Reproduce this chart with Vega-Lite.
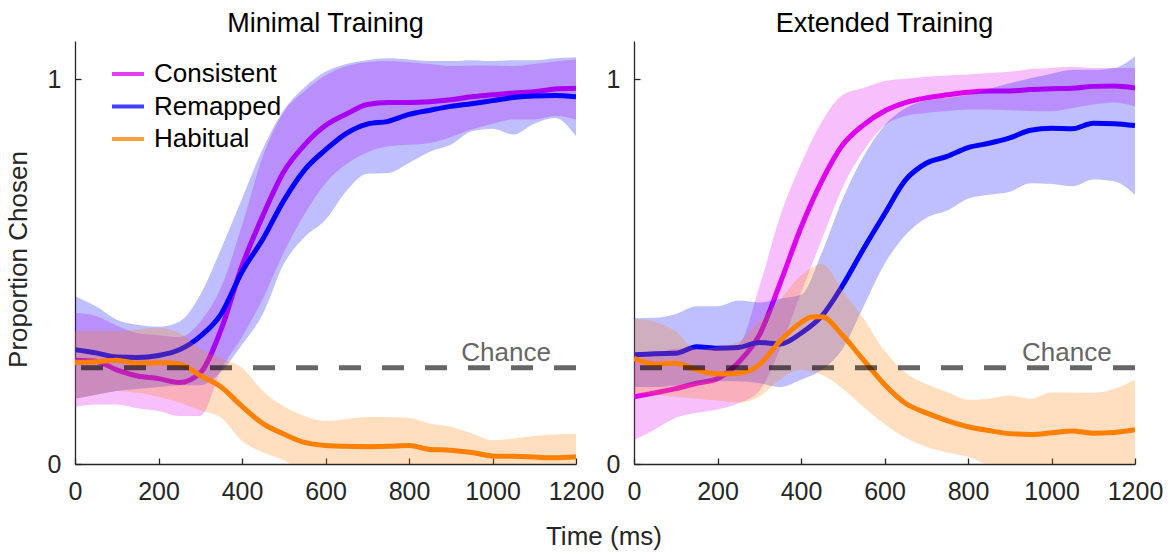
{
  "$schema": "https://vega.github.io/schema/vega-lite/v6.json",
  "padding": {"left": 5, "top": 10, "right": 5, "bottom": 5},
  "config": {
    "view": {"stroke": null},
    "font": "Liberation Sans",
    "axis": {"grid": false, "domainColor": "#262626", "domainWidth": 1.3, "tickColor": "#262626", "tickWidth": 1.3, "tickSize": -6, "labelColor": "#262626", "labelFontSize": 25, "titleFontSize": 26, "titleColor": "#262626", "titleFontWeight": "normal", "labelFont": "Liberation Sans", "titleFont": "Liberation Sans", "labelOverlap": false, "labelFlush": false, "format": "d"},
    "axisX": {"labelPadding": 21},
    "axisY": {"labelPadding": 20, "titlePadding": 16},
    "title": {"fontSize": 27, "fontWeight": "normal", "color": "#000000", "font": "Liberation Sans", "baseline": "alphabetic", "offset": 3}
  },
  "title": {"text": "Time (ms)", "orient": "bottom", "anchor": "middle", "fontSize": 26, "color": "#262626", "offset": 20, "dx": 20},
  "data": {"values": [
    {"p":"Minimal","s":"Consistent","t":0,"m":0.27,"lo":0.149,"hi":0.393},
    {"p":"Minimal","s":"Consistent","t":50,"m":0.267,"lo":0.155,"hi":0.385},
    {"p":"Minimal","s":"Consistent","t":100,"m":0.245,"lo":0.155,"hi":0.36},
    {"p":"Minimal","s":"Consistent","t":150,"m":0.229,"lo":0.145,"hi":0.34},
    {"p":"Minimal","s":"Consistent","t":200,"m":0.222,"lo":0.138,"hi":0.335},
    {"p":"Minimal","s":"Consistent","t":250,"m":0.212,"lo":0.125,"hi":0.33},
    {"p":"Minimal","s":"Consistent","t":300,"m":0.237,"lo":0.125,"hi":0.37},
    {"p":"Minimal","s":"Consistent","t":350,"m":0.35,"lo":0.245,"hi":0.46},
    {"p":"Minimal","s":"Consistent","t":400,"m":0.515,"lo":0.33,"hi":0.62},
    {"p":"Minimal","s":"Consistent","t":450,"m":0.646,"lo":0.43,"hi":0.8},
    {"p":"Minimal","s":"Consistent","t":500,"m":0.76,"lo":0.55,"hi":0.915},
    {"p":"Minimal","s":"Consistent","t":550,"m":0.83,"lo":0.65,"hi":0.97},
    {"p":"Minimal","s":"Consistent","t":600,"m":0.88,"lo":0.73,"hi":1.01},
    {"p":"Minimal","s":"Consistent","t":650,"m":0.91,"lo":0.78,"hi":1.035},
    {"p":"Minimal","s":"Consistent","t":700,"m":0.935,"lo":0.81,"hi":1.045},
    {"p":"Minimal","s":"Consistent","t":750,"m":0.94,"lo":0.826,"hi":1.048},
    {"p":"Minimal","s":"Consistent","t":800,"m":0.94,"lo":0.83,"hi":1.045},
    {"p":"Minimal","s":"Consistent","t":850,"m":0.942,"lo":0.835,"hi":1.04},
    {"p":"Minimal","s":"Consistent","t":900,"m":0.947,"lo":0.85,"hi":1.035},
    {"p":"Minimal","s":"Consistent","t":950,"m":0.955,"lo":0.87,"hi":1.036},
    {"p":"Minimal","s":"Consistent","t":1000,"m":0.96,"lo":0.885,"hi":1.036},
    {"p":"Minimal","s":"Consistent","t":1050,"m":0.965,"lo":0.896,"hi":1.035},
    {"p":"Minimal","s":"Consistent","t":1100,"m":0.968,"lo":0.896,"hi":1.04},
    {"p":"Minimal","s":"Consistent","t":1150,"m":0.975,"lo":0.905,"hi":1.047},
    {"p":"Minimal","s":"Consistent","t":1200,"m":0.977,"lo":0.896,"hi":1.052},
    {"p":"Minimal","s":"Remapped","t":0,"m":0.297,"lo":0.17,"hi":0.436},
    {"p":"Minimal","s":"Remapped","t":50,"m":0.289,"lo":0.18,"hi":0.41},
    {"p":"Minimal","s":"Remapped","t":100,"m":0.278,"lo":0.19,"hi":0.375},
    {"p":"Minimal","s":"Remapped","t":150,"m":0.277,"lo":0.195,"hi":0.362},
    {"p":"Minimal","s":"Remapped","t":200,"m":0.282,"lo":0.2,"hi":0.357},
    {"p":"Minimal","s":"Remapped","t":250,"m":0.297,"lo":0.205,"hi":0.37},
    {"p":"Minimal","s":"Remapped","t":300,"m":0.332,"lo":0.205,"hi":0.44},
    {"p":"Minimal","s":"Remapped","t":350,"m":0.39,"lo":0.24,"hi":0.56},
    {"p":"Minimal","s":"Remapped","t":400,"m":0.5,"lo":0.31,"hi":0.69},
    {"p":"Minimal","s":"Remapped","t":450,"m":0.585,"lo":0.39,"hi":0.82},
    {"p":"Minimal","s":"Remapped","t":500,"m":0.685,"lo":0.52,"hi":0.92},
    {"p":"Minimal","s":"Remapped","t":550,"m":0.765,"lo":0.59,"hi":0.98},
    {"p":"Minimal","s":"Remapped","t":600,"m":0.817,"lo":0.635,"hi":1.02},
    {"p":"Minimal","s":"Remapped","t":650,"m":0.86,"lo":0.71,"hi":1.04},
    {"p":"Minimal","s":"Remapped","t":700,"m":0.884,"lo":0.755,"hi":1.05},
    {"p":"Minimal","s":"Remapped","t":750,"m":0.891,"lo":0.757,"hi":1.055},
    {"p":"Minimal","s":"Remapped","t":800,"m":0.909,"lo":0.783,"hi":1.052},
    {"p":"Minimal","s":"Remapped","t":850,"m":0.92,"lo":0.812,"hi":1.048},
    {"p":"Minimal","s":"Remapped","t":900,"m":0.93,"lo":0.83,"hi":1.048},
    {"p":"Minimal","s":"Remapped","t":950,"m":0.937,"lo":0.865,"hi":1.05},
    {"p":"Minimal","s":"Remapped","t":1000,"m":0.945,"lo":0.872,"hi":1.048},
    {"p":"Minimal","s":"Remapped","t":1050,"m":0.953,"lo":0.857,"hi":1.05},
    {"p":"Minimal","s":"Remapped","t":1100,"m":0.957,"lo":0.885,"hi":1.05},
    {"p":"Minimal","s":"Remapped","t":1150,"m":0.958,"lo":0.9,"hi":1.055},
    {"p":"Minimal","s":"Remapped","t":1200,"m":0.955,"lo":0.852,"hi":1.058},
    {"p":"Minimal","s":"Habitual","t":0,"m":0.264,"lo":0.17,"hi":0.345},
    {"p":"Minimal","s":"Habitual","t":50,"m":0.266,"lo":0.18,"hi":0.345},
    {"p":"Minimal","s":"Habitual","t":100,"m":0.27,"lo":0.19,"hi":0.345},
    {"p":"Minimal","s":"Habitual","t":150,"m":0.262,"lo":0.185,"hi":0.35},
    {"p":"Minimal","s":"Habitual","t":200,"m":0.263,"lo":0.175,"hi":0.354},
    {"p":"Minimal","s":"Habitual","t":250,"m":0.26,"lo":0.16,"hi":0.34},
    {"p":"Minimal","s":"Habitual","t":300,"m":0.23,"lo":0.14,"hi":0.3},
    {"p":"Minimal","s":"Habitual","t":350,"m":0.2,"lo":0.12,"hi":0.275},
    {"p":"Minimal","s":"Habitual","t":400,"m":0.15,"lo":0.06,"hi":0.25},
    {"p":"Minimal","s":"Habitual","t":450,"m":0.105,"lo":0.03,"hi":0.19},
    {"p":"Minimal","s":"Habitual","t":500,"m":0.078,"lo":0.01,"hi":0.15},
    {"p":"Minimal","s":"Habitual","t":550,"m":0.056,"lo":-0.02,"hi":0.125},
    {"p":"Minimal","s":"Habitual","t":600,"m":0.048,"lo":-0.03,"hi":0.112},
    {"p":"Minimal","s":"Habitual","t":650,"m":0.046,"lo":-0.04,"hi":0.117},
    {"p":"Minimal","s":"Habitual","t":700,"m":0.045,"lo":-0.04,"hi":0.122},
    {"p":"Minimal","s":"Habitual","t":750,"m":0.046,"lo":-0.04,"hi":0.122},
    {"p":"Minimal","s":"Habitual","t":800,"m":0.048,"lo":-0.04,"hi":0.12},
    {"p":"Minimal","s":"Habitual","t":850,"m":0.038,"lo":-0.04,"hi":0.105},
    {"p":"Minimal","s":"Habitual","t":900,"m":0.036,"lo":-0.04,"hi":0.097},
    {"p":"Minimal","s":"Habitual","t":950,"m":0.03,"lo":-0.05,"hi":0.08},
    {"p":"Minimal","s":"Habitual","t":1000,"m":0.021,"lo":-0.05,"hi":0.062},
    {"p":"Minimal","s":"Habitual","t":1050,"m":0.02,"lo":-0.05,"hi":0.066},
    {"p":"Minimal","s":"Habitual","t":1100,"m":0.018,"lo":-0.05,"hi":0.073},
    {"p":"Minimal","s":"Habitual","t":1150,"m":0.016,"lo":-0.05,"hi":0.077},
    {"p":"Minimal","s":"Habitual","t":1200,"m":0.019,"lo":-0.05,"hi":0.078},
    {"p":"Extended","s":"Consistent","t":0,"m":0.175,"lo":0.0625,"hi":0.29},
    {"p":"Extended","s":"Consistent","t":50,"m":0.185,"lo":0.09,"hi":0.29},
    {"p":"Extended","s":"Consistent","t":100,"m":0.196,"lo":0.12,"hi":0.3},
    {"p":"Extended","s":"Consistent","t":150,"m":0.21,"lo":0.133,"hi":0.3},
    {"p":"Extended","s":"Consistent","t":200,"m":0.222,"lo":0.142,"hi":0.3},
    {"p":"Extended","s":"Consistent","t":250,"m":0.264,"lo":0.158,"hi":0.31},
    {"p":"Extended","s":"Consistent","t":300,"m":0.335,"lo":0.19,"hi":0.46},
    {"p":"Extended","s":"Consistent","t":350,"m":0.47,"lo":0.3,"hi":0.644},
    {"p":"Extended","s":"Consistent","t":400,"m":0.615,"lo":0.445,"hi":0.78},
    {"p":"Extended","s":"Consistent","t":450,"m":0.736,"lo":0.585,"hi":0.89},
    {"p":"Extended","s":"Consistent","t":500,"m":0.83,"lo":0.72,"hi":0.96},
    {"p":"Extended","s":"Consistent","t":550,"m":0.882,"lo":0.815,"hi":0.978},
    {"p":"Extended","s":"Consistent","t":600,"m":0.918,"lo":0.88,"hi":0.996},
    {"p":"Extended","s":"Consistent","t":650,"m":0.94,"lo":0.905,"hi":1.002},
    {"p":"Extended","s":"Consistent","t":700,"m":0.952,"lo":0.913,"hi":1.007},
    {"p":"Extended","s":"Consistent","t":750,"m":0.96,"lo":0.918,"hi":1.01},
    {"p":"Extended","s":"Consistent","t":800,"m":0.967,"lo":0.922,"hi":1.013},
    {"p":"Extended","s":"Consistent","t":850,"m":0.97,"lo":0.922,"hi":1.017},
    {"p":"Extended","s":"Consistent","t":900,"m":0.97,"lo":0.92,"hi":1.02},
    {"p":"Extended","s":"Consistent","t":950,"m":0.974,"lo":0.918,"hi":1.027},
    {"p":"Extended","s":"Consistent","t":1000,"m":0.976,"lo":0.917,"hi":1.03},
    {"p":"Extended","s":"Consistent","t":1050,"m":0.977,"lo":0.926,"hi":1.033},
    {"p":"Extended","s":"Consistent","t":1100,"m":0.982,"lo":0.935,"hi":1.03},
    {"p":"Extended","s":"Consistent","t":1150,"m":0.983,"lo":0.94,"hi":1.03},
    {"p":"Extended","s":"Consistent","t":1200,"m":0.978,"lo":0.93,"hi":1.03},
    {"p":"Extended","s":"Remapped","t":0,"m":0.284,"lo":0.2,"hi":0.379},
    {"p":"Extended","s":"Remapped","t":50,"m":0.287,"lo":0.2,"hi":0.38},
    {"p":"Extended","s":"Remapped","t":100,"m":0.288,"lo":0.205,"hi":0.39},
    {"p":"Extended","s":"Remapped","t":150,"m":0.305,"lo":0.21,"hi":0.41},
    {"p":"Extended","s":"Remapped","t":200,"m":0.301,"lo":0.215,"hi":0.41},
    {"p":"Extended","s":"Remapped","t":250,"m":0.303,"lo":0.215,"hi":0.425},
    {"p":"Extended","s":"Remapped","t":300,"m":0.316,"lo":0.21,"hi":0.42},
    {"p":"Extended","s":"Remapped","t":350,"m":0.312,"lo":0.2,"hi":0.43},
    {"p":"Extended","s":"Remapped","t":400,"m":0.34,"lo":0.219,"hi":0.44},
    {"p":"Extended","s":"Remapped","t":450,"m":0.385,"lo":0.245,"hi":0.55},
    {"p":"Extended","s":"Remapped","t":500,"m":0.465,"lo":0.3,"hi":0.69},
    {"p":"Extended","s":"Remapped","t":550,"m":0.56,"lo":0.41,"hi":0.8},
    {"p":"Extended","s":"Remapped","t":600,"m":0.65,"lo":0.52,"hi":0.88},
    {"p":"Extended","s":"Remapped","t":650,"m":0.738,"lo":0.595,"hi":0.925},
    {"p":"Extended","s":"Remapped","t":700,"m":0.782,"lo":0.64,"hi":0.945},
    {"p":"Extended","s":"Remapped","t":750,"m":0.8,"lo":0.659,"hi":0.952},
    {"p":"Extended","s":"Remapped","t":800,"m":0.823,"lo":0.69,"hi":0.96},
    {"p":"Extended","s":"Remapped","t":850,"m":0.834,"lo":0.7,"hi":0.975},
    {"p":"Extended","s":"Remapped","t":900,"m":0.848,"lo":0.708,"hi":0.99},
    {"p":"Extended","s":"Remapped","t":950,"m":0.868,"lo":0.73,"hi":1.003},
    {"p":"Extended","s":"Remapped","t":1000,"m":0.873,"lo":0.728,"hi":1.015},
    {"p":"Extended","s":"Remapped","t":1050,"m":0.872,"lo":0.722,"hi":1.025},
    {"p":"Extended","s":"Remapped","t":1100,"m":0.886,"lo":0.74,"hi":1.025},
    {"p":"Extended","s":"Remapped","t":1150,"m":0.885,"lo":0.735,"hi":1.03},
    {"p":"Extended","s":"Remapped","t":1200,"m":0.88,"lo":0.7,"hi":1.06},
    {"p":"Extended","s":"Habitual","t":0,"m":0.275,"lo":0.184,"hi":0.378},
    {"p":"Extended","s":"Habitual","t":50,"m":0.26,"lo":0.18,"hi":0.37},
    {"p":"Extended","s":"Habitual","t":100,"m":0.262,"lo":0.175,"hi":0.345},
    {"p":"Extended","s":"Habitual","t":150,"m":0.245,"lo":0.17,"hi":0.298},
    {"p":"Extended","s":"Habitual","t":200,"m":0.234,"lo":0.165,"hi":0.305},
    {"p":"Extended","s":"Habitual","t":250,"m":0.236,"lo":0.16,"hi":0.318},
    {"p":"Extended","s":"Habitual","t":300,"m":0.258,"lo":0.175,"hi":0.37},
    {"p":"Extended","s":"Habitual","t":350,"m":0.32,"lo":0.22,"hi":0.427},
    {"p":"Extended","s":"Habitual","t":400,"m":0.368,"lo":0.245,"hi":0.49},
    {"p":"Extended","s":"Habitual","t":425,"m":0.382,"lo":0.24,"hi":0.51},
    {"p":"Extended","s":"Habitual","t":450,"m":0.383,"lo":0.232,"hi":0.52},
    {"p":"Extended","s":"Habitual","t":500,"m":0.334,"lo":0.196,"hi":0.45},
    {"p":"Extended","s":"Habitual","t":550,"m":0.27,"lo":0.148,"hi":0.378},
    {"p":"Extended","s":"Habitual","t":600,"m":0.207,"lo":0.104,"hi":0.295},
    {"p":"Extended","s":"Habitual","t":650,"m":0.158,"lo":0.068,"hi":0.238},
    {"p":"Extended","s":"Habitual","t":700,"m":0.133,"lo":0.045,"hi":0.208},
    {"p":"Extended","s":"Habitual","t":750,"m":0.113,"lo":0.03,"hi":0.187},
    {"p":"Extended","s":"Habitual","t":800,"m":0.097,"lo":0.019,"hi":0.167},
    {"p":"Extended","s":"Habitual","t":850,"m":0.087,"lo":-0.003,"hi":0.17},
    {"p":"Extended","s":"Habitual","t":900,"m":0.079,"lo":-0.02,"hi":0.178},
    {"p":"Extended","s":"Habitual","t":950,"m":0.077,"lo":-0.03,"hi":0.17},
    {"p":"Extended","s":"Habitual","t":1000,"m":0.081,"lo":-0.03,"hi":0.186},
    {"p":"Extended","s":"Habitual","t":1050,"m":0.086,"lo":-0.03,"hi":0.186},
    {"p":"Extended","s":"Habitual","t":1100,"m":0.08,"lo":-0.03,"hi":0.185},
    {"p":"Extended","s":"Habitual","t":1150,"m":0.082,"lo":-0.03,"hi":0.195},
    {"p":"Extended","s":"Habitual","t":1200,"m":0.089,"lo":-0.03,"hi":0.219}
  ]},
  "spacing": 2,
  "resolve": {"scale": {"stroke": "independent", "fill": "independent"}, "legend": {"stroke": "independent", "fill": "independent"}},
  "hconcat": [
    {
      "width": 501, "height": 423,
      "title": {"text": "Minimal Training"},
      "layer": [
        {"transform": [{"filter": "datum.p === 'Minimal' && datum.s === 'Consistent'"}],
         "mark": {"type": "line", "strokeWidth": 5, "interpolate": "monotone", "clip": true},
         "encoding": {
           "x": {"field": "t", "type": "quantitative", "scale": {"domain": [0, 1200]}, "axis": {"values": [0, 200, 400, 600, 800, 1000, 1200], "title": null}},
           "y": {"field": "m", "type": "quantitative", "scale": {"domain": [0, 1.1]}, "axis": {"values": [0, 1], "title": "Proportion Chosen", "titleY": 218}},
           "stroke": {"field": "s", "type": "nominal", "scale": {"domain": ["Consistent", "Remapped", "Habitual"], "range": ["#E100F0", "#0000FF", "#FF7F00"]},
             "legend": {"orient": "none", "legendX": 35, "legendY": 15, "title": null, "symbolType": "stroke", "symbolSize": 1024, "symbolStrokeWidth": 4, "symbolOpacity": 0.75, "labelFontSize": 26, "labelFont": "Liberation Sans", "labelColor": "#000000", "labelOffset": 8, "rowPadding": 1.5, "padding": 0}}
         }},
        {"transform": [{"filter": "datum.p === 'Minimal' && datum.s === 'Consistent'"}],
         "mark": {"type": "area", "opacity": 0.25, "interpolate": "monotone", "clip": true},
         "encoding": {
           "x": {"field": "t", "type": "quantitative"},
           "y": {"field": "lo", "type": "quantitative", "title": "Proportion Chosen"},
           "y2": {"field": "hi"},
           "fill": {"field": "s", "type": "nominal", "scale": {"domain": ["Consistent", "Remapped", "Habitual"], "range": ["#E100F0", "#0000FF", "#FF7F00"]}, "legend": null}
         }},
        {"transform": [{"filter": "datum.p === 'Minimal' && datum.s === 'Remapped'"}],
         "mark": {"type": "line", "strokeWidth": 5, "interpolate": "monotone", "clip": true},
         "encoding": {
           "x": {"field": "t", "type": "quantitative"},
           "y": {"field": "m", "type": "quantitative", "title": "Proportion Chosen"},
           "stroke": {"field": "s", "type": "nominal", "scale": {"domain": ["Consistent", "Remapped", "Habitual"], "range": ["#E100F0", "#0000FF", "#FF7F00"]}}
         }},
        {"transform": [{"filter": "datum.p === 'Minimal' && datum.s === 'Remapped'"}],
         "mark": {"type": "area", "opacity": 0.25, "interpolate": "monotone", "clip": true},
         "encoding": {
           "x": {"field": "t", "type": "quantitative"},
           "y": {"field": "lo", "type": "quantitative", "title": "Proportion Chosen"},
           "y2": {"field": "hi"},
           "fill": {"field": "s", "type": "nominal", "scale": {"domain": ["Consistent", "Remapped", "Habitual"], "range": ["#E100F0", "#0000FF", "#FF7F00"]}, "legend": null}
         }},
        {"transform": [{"filter": "datum.p === 'Minimal' && datum.s === 'Habitual'"}],
         "mark": {"type": "line", "strokeWidth": 5, "interpolate": "monotone", "clip": true},
         "encoding": {
           "x": {"field": "t", "type": "quantitative"},
           "y": {"field": "m", "type": "quantitative", "title": "Proportion Chosen"},
           "stroke": {"field": "s", "type": "nominal", "scale": {"domain": ["Consistent", "Remapped", "Habitual"], "range": ["#E100F0", "#0000FF", "#FF7F00"]}}
         }},
        {"transform": [{"filter": "datum.p === 'Minimal' && datum.s === 'Habitual'"}],
         "mark": {"type": "area", "opacity": 0.25, "interpolate": "monotone", "clip": true},
         "encoding": {
           "x": {"field": "t", "type": "quantitative"},
           "y": {"field": "lo", "type": "quantitative", "title": "Proportion Chosen"},
           "y2": {"field": "hi"},
           "fill": {"field": "s", "type": "nominal", "scale": {"domain": ["Consistent", "Remapped", "Habitual"], "range": ["#E100F0", "#0000FF", "#FF7F00"]}, "legend": null}
         }},
        {"data": {"values": [{"chance": 0.25}]},
         "mark": {"type": "rule", "stroke": "#000000", "strokeWidth": 5, "strokeDash": [22, 21], "opacity": 0.6},
         "encoding": {"y": {"field": "chance", "type": "quantitative", "title": "Proportion Chosen"}}},
        {"data": {"values": [{"chance": 0.25, "label": "Chance", "tx": 1140}]},
         "mark": {"type": "text", "align": "right", "baseline": "alphabetic", "fontSize": 26, "font": "Liberation Sans", "color": "#666666", "dy": -7},
         "encoding": {"x": {"field": "tx", "type": "quantitative"}, "y": {"field": "chance", "type": "quantitative", "title": "Proportion Chosen"}, "text": {"field": "label"}}}
      ]
    },
    {
      "width": 501, "height": 423,
      "title": {"text": "Extended Training"},
      "layer": [
        {"transform": [{"filter": "datum.p === 'Extended' && datum.s === 'Consistent'"}],
         "mark": {"type": "line", "strokeWidth": 5, "interpolate": "monotone", "clip": true},
         "encoding": {
           "x": {"field": "t", "type": "quantitative", "scale": {"domain": [0, 1200]}, "axis": {"values": [0, 200, 400, 600, 800, 1000, 1200], "title": null}},
           "y": {"field": "m", "type": "quantitative", "scale": {"domain": [0, 1.1]}, "axis": {"values": [0, 1], "title": null}},
           "stroke": {"field": "s", "type": "nominal", "scale": {"domain": ["Consistent", "Remapped", "Habitual"], "range": ["#E100F0", "#0000FF", "#FF7F00"]}, "legend": null}
         }},
        {"transform": [{"filter": "datum.p === 'Extended' && datum.s === 'Consistent'"}],
         "mark": {"type": "area", "opacity": 0.25, "interpolate": "monotone", "clip": true},
         "encoding": {
           "x": {"field": "t", "type": "quantitative"},
           "y": {"field": "lo", "type": "quantitative", "title": null},
           "y2": {"field": "hi"},
           "fill": {"field": "s", "type": "nominal", "scale": {"domain": ["Consistent", "Remapped", "Habitual"], "range": ["#E100F0", "#0000FF", "#FF7F00"]}, "legend": null}
         }},
        {"transform": [{"filter": "datum.p === 'Extended' && datum.s === 'Remapped'"}],
         "mark": {"type": "line", "strokeWidth": 5, "interpolate": "monotone", "clip": true},
         "encoding": {
           "x": {"field": "t", "type": "quantitative"},
           "y": {"field": "m", "type": "quantitative", "title": null},
           "stroke": {"field": "s", "type": "nominal", "scale": {"domain": ["Consistent", "Remapped", "Habitual"], "range": ["#E100F0", "#0000FF", "#FF7F00"]}, "legend": null}
         }},
        {"transform": [{"filter": "datum.p === 'Extended' && datum.s === 'Remapped'"}],
         "mark": {"type": "area", "opacity": 0.25, "interpolate": "monotone", "clip": true},
         "encoding": {
           "x": {"field": "t", "type": "quantitative"},
           "y": {"field": "lo", "type": "quantitative", "title": null},
           "y2": {"field": "hi"},
           "fill": {"field": "s", "type": "nominal", "scale": {"domain": ["Consistent", "Remapped", "Habitual"], "range": ["#E100F0", "#0000FF", "#FF7F00"]}, "legend": null}
         }},
        {"transform": [{"filter": "datum.p === 'Extended' && datum.s === 'Habitual'"}],
         "mark": {"type": "line", "strokeWidth": 5, "interpolate": "monotone", "clip": true},
         "encoding": {
           "x": {"field": "t", "type": "quantitative"},
           "y": {"field": "m", "type": "quantitative", "title": null},
           "stroke": {"field": "s", "type": "nominal", "scale": {"domain": ["Consistent", "Remapped", "Habitual"], "range": ["#E100F0", "#0000FF", "#FF7F00"]}, "legend": null}
         }},
        {"transform": [{"filter": "datum.p === 'Extended' && datum.s === 'Habitual'"}],
         "mark": {"type": "area", "opacity": 0.25, "interpolate": "monotone", "clip": true},
         "encoding": {
           "x": {"field": "t", "type": "quantitative"},
           "y": {"field": "lo", "type": "quantitative", "title": null},
           "y2": {"field": "hi"},
           "fill": {"field": "s", "type": "nominal", "scale": {"domain": ["Consistent", "Remapped", "Habitual"], "range": ["#E100F0", "#0000FF", "#FF7F00"]}, "legend": null}
         }},
        {"data": {"values": [{"chance": 0.25}]},
         "mark": {"type": "rule", "stroke": "#000000", "strokeWidth": 5, "strokeDash": [22, 21], "opacity": 0.6},
         "encoding": {"y": {"field": "chance", "type": "quantitative", "title": null}}},
        {"data": {"values": [{"chance": 0.25, "label": "Chance", "tx": 1144}]},
         "mark": {"type": "text", "align": "right", "baseline": "alphabetic", "fontSize": 26, "font": "Liberation Sans", "color": "#666666", "dy": -7},
         "encoding": {"x": {"field": "tx", "type": "quantitative"}, "y": {"field": "chance", "type": "quantitative", "title": null}, "text": {"field": "label"}}}
      ]
    }
  ]
}
